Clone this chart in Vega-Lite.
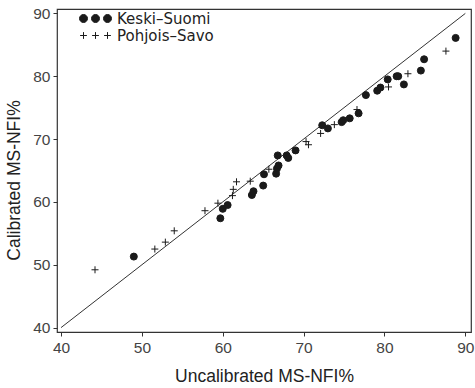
{
  "$schema": "https://vega.github.io/schema/vega-lite/v6.json",
  "width": 414,
  "height": 323,
  "autosize": {"type": "none"},
  "padding": {"left": 57, "top": 9, "right": 4, "bottom": 56},
  "background": "white",
  "config": {
    "view": {"stroke": "#333", "strokeWidth": 1.2},
    "font": "Liberation Sans",
    "axis": {
      "grid": false,
      "domain": false,
      "tickColor": "#333",
      "tickSize": 4,
      "labelFont": "Liberation Sans",
      "labelFontSize": 15.5,
      "labelColor": "#444",
      "titleFont": "Liberation Sans",
      "titleFontSize": 17.5,
      "titleFontWeight": "normal",
      "titleColor": "#222"
    }
  },
  "datasets": {
    "pts": [
      {"region": "Keski–Suomi", "uncal": 49.0, "cal": 51.3},
      {"region": "Keski–Suomi", "uncal": 59.7, "cal": 57.4},
      {"region": "Keski–Suomi", "uncal": 60.0, "cal": 58.9},
      {"region": "Keski–Suomi", "uncal": 60.6, "cal": 59.5},
      {"region": "Keski–Suomi", "uncal": 63.6, "cal": 61.1},
      {"region": "Keski–Suomi", "uncal": 63.8, "cal": 61.7},
      {"region": "Keski–Suomi", "uncal": 65.0, "cal": 62.6},
      {"region": "Keski–Suomi", "uncal": 65.1, "cal": 64.4},
      {"region": "Keski–Suomi", "uncal": 66.6, "cal": 64.5},
      {"region": "Keski–Suomi", "uncal": 66.7, "cal": 65.3},
      {"region": "Keski–Suomi", "uncal": 66.9, "cal": 65.8},
      {"region": "Keski–Suomi", "uncal": 66.8, "cal": 67.4},
      {"region": "Keski–Suomi", "uncal": 67.9, "cal": 67.4},
      {"region": "Keski–Suomi", "uncal": 68.1, "cal": 67.0},
      {"region": "Keski–Suomi", "uncal": 69.0, "cal": 68.2},
      {"region": "Keski–Suomi", "uncal": 72.3, "cal": 72.2},
      {"region": "Keski–Suomi", "uncal": 73.0, "cal": 71.7},
      {"region": "Keski–Suomi", "uncal": 74.7, "cal": 72.7},
      {"region": "Keski–Suomi", "uncal": 74.9, "cal": 73.0},
      {"region": "Keski–Suomi", "uncal": 75.7, "cal": 73.3},
      {"region": "Keski–Suomi", "uncal": 76.8, "cal": 74.1},
      {"region": "Keski–Suomi", "uncal": 77.7, "cal": 77.0},
      {"region": "Keski–Suomi", "uncal": 79.1, "cal": 77.7},
      {"region": "Keski–Suomi", "uncal": 79.5, "cal": 78.2},
      {"region": "Keski–Suomi", "uncal": 80.4, "cal": 79.5},
      {"region": "Keski–Suomi", "uncal": 81.5, "cal": 80.0},
      {"region": "Keski–Suomi", "uncal": 81.7, "cal": 80.0},
      {"region": "Keski–Suomi", "uncal": 82.4, "cal": 78.7},
      {"region": "Keski–Suomi", "uncal": 84.5, "cal": 80.9},
      {"region": "Keski–Suomi", "uncal": 84.9, "cal": 82.7},
      {"region": "Keski–Suomi", "uncal": 88.8, "cal": 86.1},
      {"region": "Pohjois–Savo", "uncal": 44.2, "cal": 49.2},
      {"region": "Pohjois–Savo", "uncal": 51.6, "cal": 52.5},
      {"region": "Pohjois–Savo", "uncal": 52.9, "cal": 53.6},
      {"region": "Pohjois–Savo", "uncal": 54.0, "cal": 55.4},
      {"region": "Pohjois–Savo", "uncal": 57.8, "cal": 58.6},
      {"region": "Pohjois–Savo", "uncal": 59.4, "cal": 59.8},
      {"region": "Pohjois–Savo", "uncal": 61.2, "cal": 61.0},
      {"region": "Pohjois–Savo", "uncal": 61.3, "cal": 62.0},
      {"region": "Pohjois–Savo", "uncal": 61.7, "cal": 63.2},
      {"region": "Pohjois–Savo", "uncal": 63.4, "cal": 63.3},
      {"region": "Pohjois–Savo", "uncal": 65.7, "cal": 65.2},
      {"region": "Pohjois–Savo", "uncal": 70.3, "cal": 69.6},
      {"region": "Pohjois–Savo", "uncal": 70.6, "cal": 69.1},
      {"region": "Pohjois–Savo", "uncal": 72.1, "cal": 70.9},
      {"region": "Pohjois–Savo", "uncal": 73.8, "cal": 72.3},
      {"region": "Pohjois–Savo", "uncal": 76.6, "cal": 74.7},
      {"region": "Pohjois–Savo", "uncal": 80.5, "cal": 78.3},
      {"region": "Pohjois–Savo", "uncal": 82.9, "cal": 80.4},
      {"region": "Pohjois–Savo", "uncal": 87.6, "cal": 84.0}
    ],
    "diag": [
      {"uncal": 40, "cal": 40},
      {"uncal": 90, "cal": 90}
    ]
  },
  "encoding": {
    "x": {
      "field": "uncal", "type": "quantitative",
      "scale": {"domain": [39.5, 90.7], "nice": false, "zero": false},
      "axis": {"values": [40, 50, 60, 70, 80, 90], "title": "Uncalibrated MS-NFI%", "labelPadding": 4, "titlePadding": 12}
    },
    "y": {
      "field": "cal", "type": "quantitative",
      "scale": {"domain": [39.3, 90.7], "nice": false, "zero": false},
      "axis": {"values": [40, 50, 60, 70, 80, 90], "title": "Calibrated MS-NFI%", "labelPadding": 3, "titlePadding": 9, "titleY": 171}
    }
  },
  "layer": [
    {
      "data": {"name": "diag"},
      "mark": {"type": "line", "color": "#333", "strokeWidth": 1, "clip": true}
    },
    {
      "data": {"name": "pts"},
      "transform": [{"filter": "datum.region == 'Keski–Suomi'"}],
      "mark": {"type": "point", "shape": "circle", "fill": "#1a1a1a", "stroke": "#1a1a1a", "strokeWidth": 1, "opacity": 1, "size": 49}
    },
    {
      "data": {"name": "pts"},
      "transform": [{"filter": "datum.region == 'Pohjois–Savo'"}],
      "mark": {"type": "point", "shape": "M-1,0H1M0,-1V1", "fill": "transparent", "stroke": "#1a1a1a", "strokeWidth": 1, "opacity": 1, "size": 49}
    },
    {
      "data": {"name": "pts"},
      "transform": [{"filter": "false"}],
      "mark": {"type": "point", "fill": "#1a1a1a", "stroke": "#1a1a1a", "strokeWidth": 1, "opacity": 1},
      "encoding": {
        "shape": {
          "field": "region", "type": "nominal",
          "scale": {
            "domain": ["Keski–Suomi", "Pohjois–Savo"],
            "range": [
              "M-4,0A1,1,0,1,1,-2,0A1,1,0,1,1,-4,0ZM-1,0A1,1,0,1,1,1,0A1,1,0,1,1,-1,0ZM2,0A1,1,0,1,1,4,0A1,1,0,1,1,2,0Z",
              "M-3.85,0H-2.15M-3,-0.85V0.85M-0.85,0H0.85M0,-0.85V0.85M2.15,0H3.85M3,-0.85V0.85"
            ]
          },
          "legend": {
            "title": null,
            "orient": "none",
            "legendX": 31,
            "legendY": 2,
            "padding": 0,
            "labelFont": "DejaVu Sans",
            "labelFontSize": 15,
            "labelColor": "#222",
            "symbolSize": 64,
            "symbolOpacity": 1,
            "symbolStrokeWidth": 1,
            "labelOffset": 14,
            "rowPadding": 1
          }
        }
      }
    }
  ]
}
